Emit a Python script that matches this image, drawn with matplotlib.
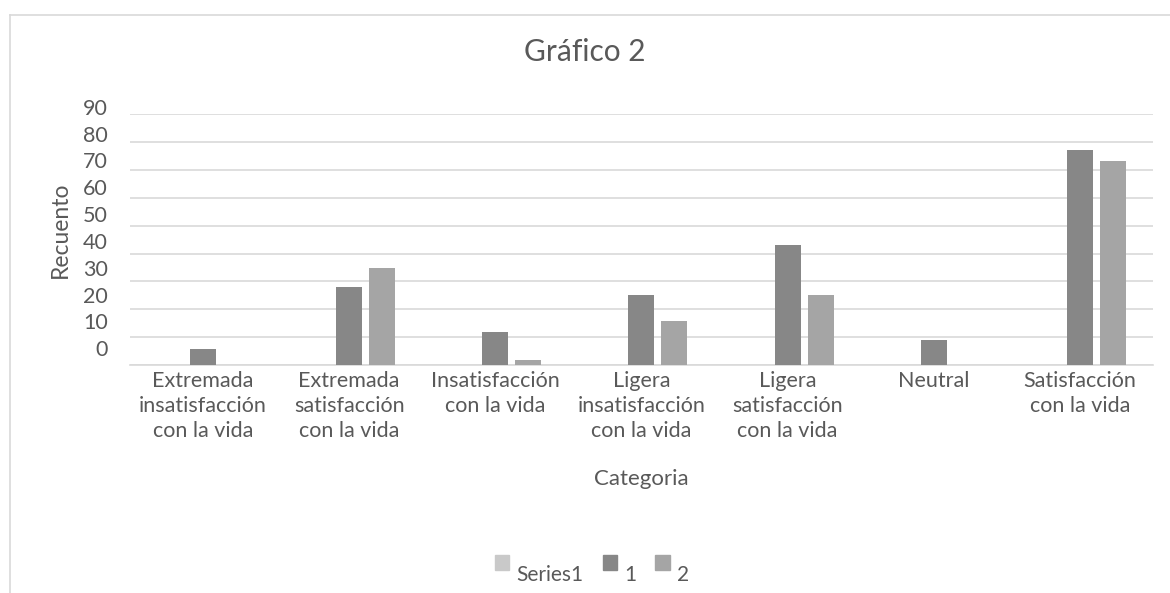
import matplotlib
matplotlib.use("Agg")
import matplotlib.pyplot as plt
import matplotlib.transforms as mtransforms
from matplotlib.lines import Line2D
from matplotlib.patches import Patch, Rectangle
from matplotlib.legend_handler import HandlerPatch
import numpy as np

plt.rcParams["font.family"] = ["Lato", "DejaVu Sans"]

categories = [
    "Extremada\ninsatisfacción\ncon la vida",
    "Extremada\nsatisfacción\ncon la vida",
    "Insatisfacción\ncon la vida",
    "Ligera\ninsatisfacción\ncon la vida",
    "Ligera\nsatisfacción\ncon la vida",
    "Neutral",
    "Satisfacción\ncon la vida",
]
series_names = ["Series1", "1", "2"]
series1 = [0, 0, 0, 0, 0, 0, 0]
series_a = [6, 28, 12, 25, 43, 9, 77]
series_b = [0, 35, 2, 16, 25, 0, 73]
yticks = list(range(0, 100, 10))

colors = ["#c9c9c9", "#878787", "#a5a5a5"]
text_color = "#595959"
grid_color = "#d9d9d9"

fig = plt.figure(figsize=(11.7, 5.93), dpi=100)
ax = fig.add_axes([0.111, 0.384, 0.8745, 0.424])

x = np.arange(len(categories))
width = 0.178
step = 0.226
for k, vals in enumerate([series1, series_a, series_b]):
    ax.bar(x + (k - 1) * step, vals, width, color=colors[k],
           label=series_names[k], zorder=3)

ax.set_xlim(-0.5, len(categories) - 0.5)
ax.set_ylim(0, 90)
ax.set_yticks(yticks)
ax.set_yticklabels([str(v) for v in yticks])
ax.set_xticks(x)
ax.set_xticklabels(categories, linespacing=1.33)
ax.yaxis.grid(True, color=grid_color, linewidth=1.2, zorder=0)
ax.set_axisbelow(True)
for s in ["top", "right", "left"]:
    ax.spines[s].set_visible(False)
ax.spines["bottom"].set_color(grid_color)
ax.spines["bottom"].set_linewidth(1.2)
ax.tick_params(axis="both", length=0, colors=text_color, labelsize=15.5)
ax.tick_params(axis="y", pad=16)
ax.tick_params(axis="x", pad=4)

# the y labels sit a bit above their gridlines in the original
for i, lab in enumerate(ax.get_yticklabels()):
    off = mtransforms.ScaledTranslation(0, (17 - 1.1 * i) / 100, fig.dpi_scale_trans)
    lab.set_transform(lab.get_transform() + off)

ax.set_xlabel("Categoria", fontsize=16, color=text_color, va="center")
ax.xaxis.set_label_coords(0.5, -0.452)
ax.set_ylabel("Recuento", fontsize=16.5, color=text_color, va="center")
ax.yaxis.set_label_coords(-0.068, 0.54)

fig.text(0.5, 1 - 52 / 593, "Gráfico 2", ha="center", va="center",
         fontsize=21.5, color=text_color)

# chart area border (left and top edges visible)
fig.add_artist(Line2D([10 / 1170, 10 / 1170], [0, 1 - 15 / 593],
                      color=grid_color, linewidth=1.2))
fig.add_artist(Line2D([10 / 1170, 1], [1 - 15 / 593, 1 - 15 / 593],
                      color=grid_color, linewidth=1.2))


def raised_square(legend, orig_handle, xdescent, ydescent, width, height, fontsize):
    return Rectangle((-xdescent, -ydescent + 0.8 * height), width, width)


handles = [Patch(color=c) for c in colors]
fig.legend(handles, series_names, loc="center", bbox_to_anchor=(0.506, 0.03),
           ncol=3, frameon=False, fontsize=15, handlelength=0.7,
           handleheight=0.7, handletextpad=0.35, columnspacing=0.9,
           labelcolor=text_color,
           handler_map={Patch: HandlerPatch(patch_func=raised_square)})

fig.savefig("out.png", dpi=100)
